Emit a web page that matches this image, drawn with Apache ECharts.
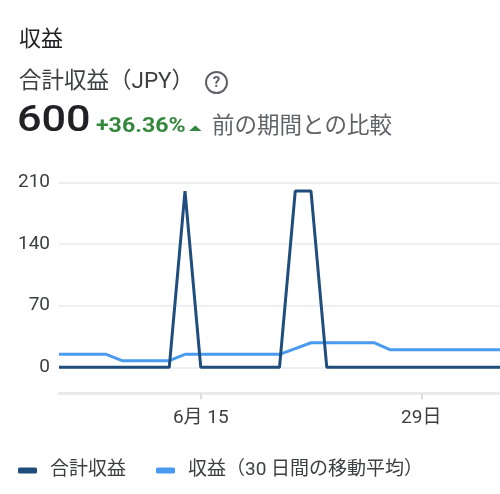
<!DOCTYPE html>
<html>
<head>
<meta charset="utf-8">
<script src="https://cdn.jsdelivr.net/npm/echarts@6/dist/echarts.min.js"></script>
<style>
html,body{margin:0;padding:0;background:#fff;}
#c{width:500px;height:494px;}
</style>
</head>
<body>
<div id="c"></div>
<script>
var categories = ['6/6','6/7','6/8','6/9','6/10','6/11','6/12','6/13','6/14','6/15','6/16','6/17','6/18','6/19','6/20','6/21','6/22','6/23','6/24','6/25','6/26','6/27','6/28','6/29','6/30','7/1','7/2','7/3','7/4'];
var totalRevenue = [0,0,0,0,0,0,0,0,200,0,0,0,0,0,0,200,200,0,0,0,0,0,0,0,0,0,0,0,0];
var movingAvg = [14.7,14.7,14.7,14.7,7.5,7.5,7.5,7.5,14.7,14.7,14.7,14.7,14.7,14.7,14.7,21.3,27.9,27.9,27.9,27.9,27.9,20,20,20,20,20,20,20,20];
var xTickLabels = {'6/15':'6月 15','6/29':'29日'};
var yTicks = [0,70,140,210];
var seriesNames = ['合計収益','収益（30 日間の移動平均）'];

var FONT = "Roboto, 'Noto Sans CJK JP', sans-serif";
var chart = echarts.init(document.getElementById('c'), null, {renderer:'canvas'});
function showIdx(i){ return xTickLabels.hasOwnProperty(categories[i]); }

chart.setOption({
  animation:false,
  grid:{left:59, top:182.3, width:444.6, bottom:126.7},
  graphic:[
    {type:'text', left:19, top:29, style:{text:'収益', font:"22px "+FONT, fill:'#202124'}},
    {type:'text', left:19, top:71, style:{text:'合計収益（JPY）', font:"22.5px "+FONT, fill:'#3c4043'}},
    {type:'circle', shape:{cx:216.5, cy:82.5, r:10.5}, style:{fill:'none', stroke:'#5f6368', lineWidth:2}},
    {type:'text', x:216.5, y:83, style:{text:'?', font:"bold 15px "+FONT, fill:'#5f6368', align:'center', verticalAlign:'middle'}},
    {type:'text', x:17, y:104, scaleX:1.2, style:{text:'600', font:"500 36px "+FONT, fill:'#202124'}},
    {type:'text', x:96, y:117, scaleX:1.13, style:{text:'+36.36%', font:"bold 20.5px "+FONT, fill:'#34883e'}},
    {type:'polygon', shape:{points:[[189,131],[201.5,131],[195.3,125.5]]}, style:{fill:'#34883e'}},
    {type:'text', left:212, top:116, style:{text:'前の期間との比較', font:"22.5px "+FONT, fill:'#5f6368'}}
  ],
  legend:{
    left:13, top:456, itemWidth:19, itemHeight:6, itemGap:30,
    icon:'roundRect',
    textStyle:{fontSize:19, fontFamily:FONT, color:'#3c4043', padding:[0,0,0,8]},
    data:seriesNames
  },
  xAxis:{
    type:'category', data:categories, boundaryGap:false, offset:26,
    axisLine:{show:true, onZero:false, lineStyle:{color:'#e8eaed', width:3}},
    axisTick:{show:true, interval:function(i){return showIdx(i);}, length:6, lineStyle:{color:'#dadce0', width:2}},
    axisLabel:{interval:function(i){return showIdx(i);}, formatter:function(v){return xTickLabels[v]||'';}, margin:15, fontSize:19, fontFamily:FONT, color:'#3c4043'},
    splitLine:{show:false}
  },
  yAxis:{
    type:'value', min:yTicks[0], max:yTicks[yTicks.length-1], interval:yTicks[1]-yTicks[0],
    axisLine:{show:false}, axisTick:{show:false},
    axisLabel:{margin:9, fontSize:19, fontFamily:FONT, color:'#3c4043'},
    splitLine:{lineStyle:{color:'#e8eaed', width:1.5}}
  },
  series:[
    {name:seriesNames[0], type:'line', data:totalRevenue, symbol:'none', clip:false,
     lineStyle:{color:'#1f4e7d', width:3}, itemStyle:{color:'#1f4e7d'}, z:3},
    {name:seriesNames[1], type:'line', data:movingAvg, symbol:'none', clip:false,
     lineStyle:{color:'#4a9bef', width:3}, itemStyle:{color:'#4a9bef'}, z:2}
  ]
});
</script>
</body>
</html>
